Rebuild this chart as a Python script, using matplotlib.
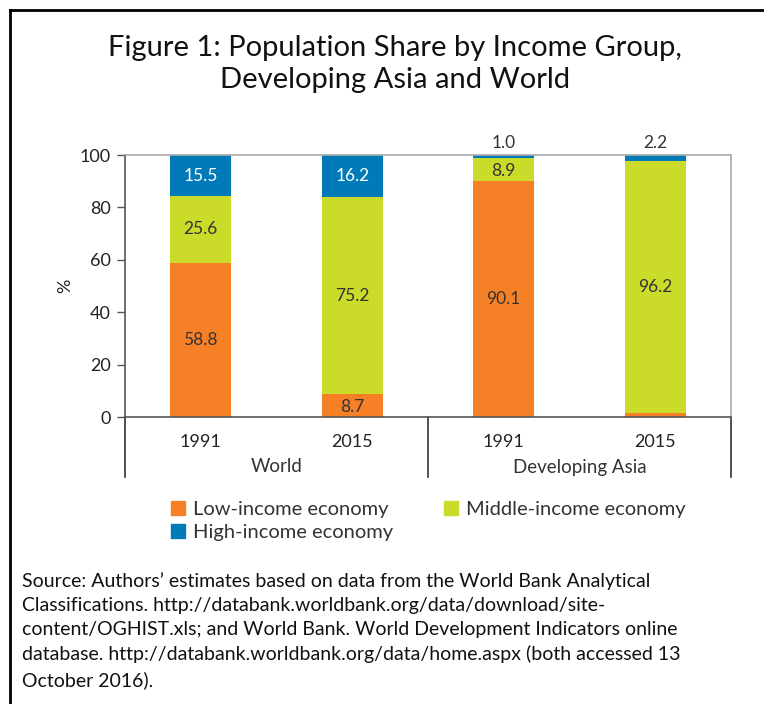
import matplotlib
matplotlib.use("Agg")
import matplotlib.pyplot as plt
from matplotlib.lines import Line2D
from matplotlib.patches import Patch
import matplotlib.transforms as mtransforms
import numpy as np

plt.rcParams['font.family'] = ['Lato', 'DejaVu Sans']

years = ["1991", "2015", "1991", "2015"]
groups = ["World", "Developing Asia"]
low_income = [58.8, 8.7, 90.1, 1.6]
middle_income = [25.6, 75.2, 8.9, 96.2]
high_income = [15.5, 16.2, 1.0, 2.2]
series_names = ["Low-income economy", "Middle-income economy", "High-income economy"]
colors = ["#F58025", "#CBDB2A", "#007AB8"]

W, H = 764, 704
fig = plt.figure(figsize=(W / 100, H / 100), dpi=100)
ax = fig.add_axes([125 / W, 1 - 417 / H, (731 - 125) / W, (417 - 155) / H])

x = np.arange(len(years))
bw = 0.4
ax.bar(x, low_income, bw, color=colors[0], label=series_names[0])
ax.bar(x, middle_income, bw, bottom=low_income, color=colors[1], label=series_names[1])
bottom3 = [a + b for a, b in zip(low_income, middle_income)]
ax.bar(x, high_income, bw, bottom=bottom3, color=colors[2], label=series_names[2])

ax.set_xlim(-0.5, 3.5)
ax.set_ylim(0, 100)
ax.set_yticks(range(0, 101, 20))
ax.tick_params(axis='y', labelsize=13, length=6, width=1, color="#555555", labelcolor="#222222", pad=4)
ax.set_xticks(x)
ax.set_xticklabels(years)
ax.tick_params(axis='x', length=0, labelsize=13, labelcolor="#222222", pad=12)
ax.set_ylabel("%", fontsize=13, color="#222222", labelpad=0)
ax.yaxis.set_label_coords(-52 / 606, 0.5)

for s in ["top", "right"]:
    ax.spines[s].set_color("#AAAAAA")
    ax.spines[s].set_linewidth(1.2)
for s in ["left", "bottom"]:
    ax.spines[s].set_color("#555555")
    ax.spines[s].set_linewidth(1.2)

# data labels
for i in range(len(years)):
    lo, mi, hi = low_income[i], middle_income[i], high_income[i]
    if lo > 3:
        ax.text(i, lo / 2 if lo > 15 else lo / 2 - 0.6, f"{lo:.1f}", ha='center', va='center', fontsize=12.5, color="#333333")
    if mi > 3:
        ax.text(i, lo + mi / 2 if mi > 15 else lo + mi / 2 - 0.8, f"{mi:.1f}", ha='center', va='center', fontsize=12.5, color="#333333")
    if hi > 5:
        ax.text(i, lo + mi + hi / 2, f"{hi:.1f}", ha='center', va='center', fontsize=12.5, color="white")
    else:
        ax.text(i, 101.5, f"{hi:.1f}", ha='center', va='bottom', fontsize=12.5, color="#333333", clip_on=False)

# group labels & separators
trans = mtransforms.blended_transform_factory(ax.transData, ax.transAxes)
for xs in [-0.5, 1.5, 3.5]:
    ax.add_line(Line2D([xs, xs], [0, -60 / 262], transform=trans, color="#333333", lw=1.2, clip_on=False))
for gi, g in enumerate(groups):
    ax.text(gi * 2 + 0.5, -50 / 262, g, transform=trans, ha='center', va='center', fontsize=13.5, color="#333333")

# title
fig.text(395 / W, 1 - 48 / H, "Figure 1: Population Share by Income Group,", ha='center', va='center', fontsize=21, color="#111111")
fig.text(395 / W, 1 - 80 / H, "Developing Asia and World", ha='center', va='center', fontsize=21, color="#111111")

# legend (column-wise fill: Low, High | Middle)
order = [0, 2, 1]
handles = [Patch(color=colors[k]) for k in order]
labels = [series_names[k] for k in order]
leg = fig.legend(handles, labels, loc='upper left', bbox_to_anchor=(171 / W, 1 - 501 / H), ncol=2,
                 frameon=False, fontsize=14.5, handlelength=0.7, handleheight=0.7, handletextpad=0.4,
                 columnspacing=2.5, labelspacing=0.3, borderaxespad=0, borderpad=0)
for t in leg.get_texts():
    t.set_color("#333333")

# source
src = ("Source: Authors\u2019 estimates based on data from the World Bank Analytical\n"
       "Classifications. http://databank.worldbank.org/data/download/site-\n"
       "content/OGHIST.xls; and World Bank. World Development Indicators online\n"
       "database. http://databank.worldbank.org/data/home.aspx (both accessed 13\n"
       "October 2016).")
fig.text(22 / W, 1 - 572 / H, src, ha='left', va='top', fontsize=14, color="#111111", linespacing=1.5)

# frame
fig.add_artist(Line2D([10 / W, 1.0], [1 - 10 / H, 1 - 10 / H], transform=fig.transFigure, color="black", lw=2))
fig.add_artist(Line2D([10 / W, 10 / W], [1 - 10 / H, 0], transform=fig.transFigure, color="black", lw=2))

fig.savefig("out.png", dpi=100)
